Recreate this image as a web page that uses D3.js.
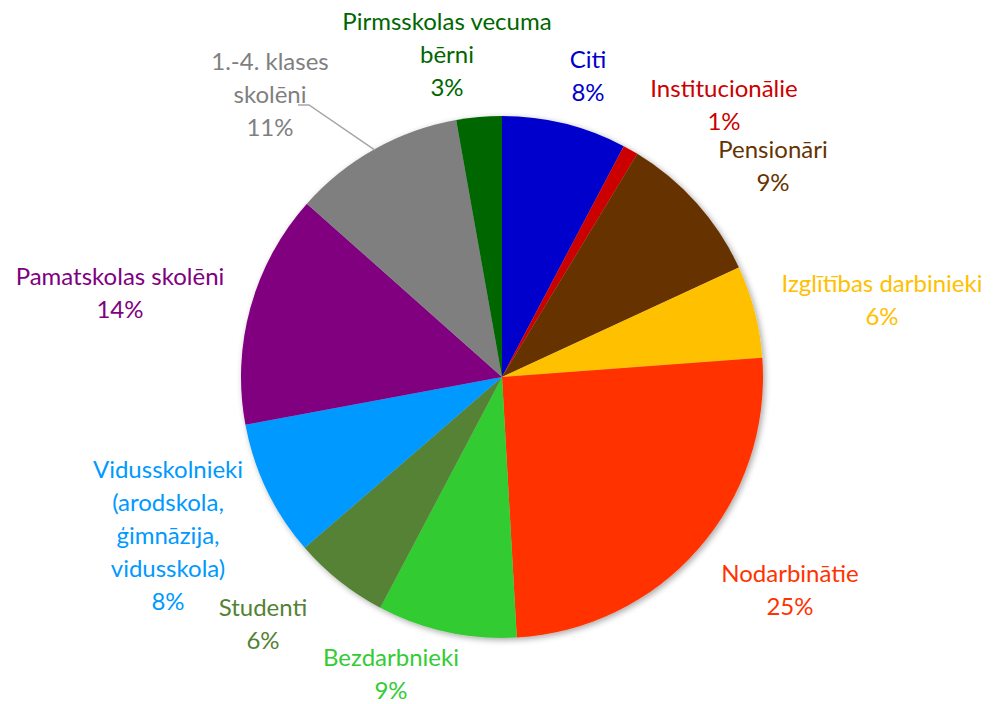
<!DOCTYPE html>
<html>
<head>
<meta charset="utf-8">
<script src="https://cdn.jsdelivr.net/npm/d3@7"></script>
<style>
  html, body { margin: 0; padding: 0; background: #fff; }
  svg { display: block; }
</style>
</head>
<body>
<div id="chart"></div>
<script>
// ---- data ----
const categories = [
  "Citi",
  "Institucionālie",
  "Pensionāri",
  "Izglītības darbinieki",
  "Nodarbinātie",
  "Bezdarbnieki",
  "Studenti",
  "Vidusskolnieki (arodskola, ģimnāzija, vidusskola)",
  "Pamatskolas skolēni",
  "1.-4. klases skolēni",
  "Pirmsskolas vecuma bērni"
];
const values = [7.7, 0.95, 9.4, 5.7, 25.2, 8.6, 5.9, 8.4, 14.45, 10.6, 2.8];
const colors = ["#0000CC", "#CC0000", "#663300", "#FFC000", "#FF3300", "#33CC33",
                "#548235", "#0099FF", "#800080", "#7F7F7F", "#006600"];
// label line breaks
const labelLines = [
  ["Citi"],
  ["Institucionālie"],
  ["Pensionāri"],
  ["Izglītības darbinieki"],
  ["Nodarbinātie"],
  ["Bezdarbnieki"],
  ["Studenti"],
  ["Vidusskolnieki", "(arodskola,", "ģimnāzija,", "vidusskola)"],
  ["Pamatskolas skolēni"],
  ["1.-4. klases", "skolēni"],
  ["Pirmsskolas vecuma", "bērni"]
];

// ---- layout ----
const W = 993, H = 704;
const cx = 502, cy = 377, R = 261;
const lineH = 33;
// label anchors: center x, baseline of first line
const labelPos = [
  [588, 68], [724, 97], [773, 158], [882, 292], [790, 582],
  [391, 666], [263, 616], [168, 478], [120, 285], [270, 70], [447, 30]
];

const svg = d3.select("#chart").append("svg")
  .attr("width", W).attr("height", H);

const defs = svg.append("defs");
const f = defs.append("filter").attr("id", "shadow")
  .attr("x", "-20%").attr("y", "-20%").attr("width", "140%").attr("height", "140%");
f.append("feGaussianBlur").attr("in", "SourceAlpha").attr("stdDeviation", 3).attr("result", "b");
f.append("feOffset").attr("in", "b").attr("dx", 2).attr("dy", 2).attr("result", "o");
f.append("feComponentTransfer").attr("in", "o").attr("result", "s")
  .append("feFuncA").attr("type", "linear").attr("slope", 0.35);
const fm = f.append("feMerge");
fm.append("feMergeNode").attr("in", "s");
fm.append("feMergeNode").attr("in", "SourceGraphic");

const data = categories.map((c, i) => ({ cat: c, value: values[i], color: colors[i], lines: labelLines[i], pos: labelPos[i] }));
const total = d3.sum(values);

const pie = d3.pie().value(d => d.value).sort(null);
const arc = d3.arc().innerRadius(0).outerRadius(R);
const arcs = pie(data);

const g = svg.append("g").attr("transform", `translate(${cx},${cy})`);
const slices = g.append("g").attr("filter", "url(#shadow)");
slices.selectAll("path").data(arcs).join("path")
  .attr("d", arc)
  .attr("fill", d => d.data.color);

// leader line for 1.-4. klases skolēni
const leaderIdx = 9;
const la = arcs[leaderIdx];
const mid = (la.startAngle + la.endAngle) / 2;
const ex = cx + Math.sin(mid) * (R - 1), ey = cy - Math.cos(mid) * (R - 1);
svg.append("polyline")
  .attr("points", `298,105 309,105 ${ex},${ey}`)
  .attr("fill", "none").attr("stroke", "#A6A6A6").attr("stroke-width", 1.5);

// labels
const fmt = v => Math.round(v / total * 100) + "%";
const lab = svg.append("g")
  .attr("font-family", "Lato, 'Open Sans', sans-serif")
  .attr("font-size", 24)
  .attr("text-anchor", "middle");
arcs.forEach(a => {
  const d = a.data;
  const t = lab.append("text").attr("fill", d.color);
  const lines = d.lines.concat([fmt(d.value)]);
  lines.forEach((s, k) => {
    t.append("tspan").attr("x", d.pos[0]).attr("y", d.pos[1] + k * lineH).text(s);
  });
});
</script>
</body>
</html>
